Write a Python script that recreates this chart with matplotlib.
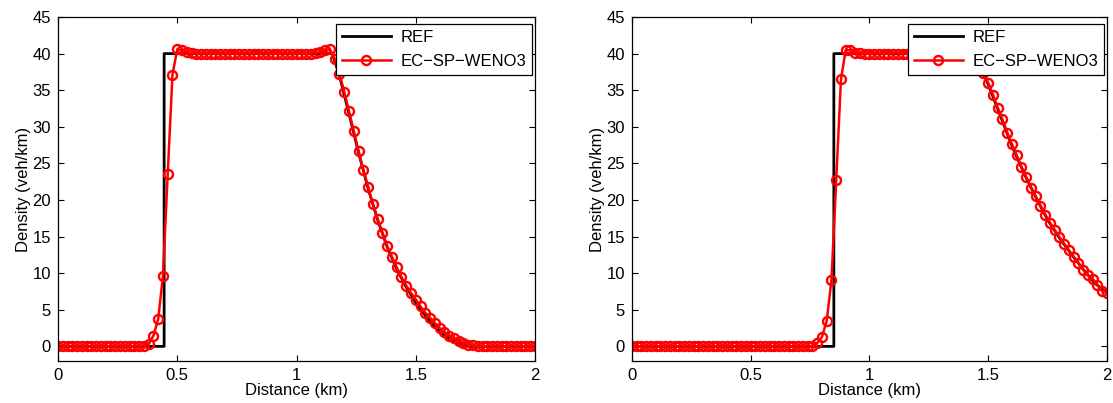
import numpy as np
import matplotlib
matplotlib.use('Agg')
import matplotlib.pyplot as plt

plt.rcParams['font.family'] = ['Liberation Sans', 'DejaVu Sans']

# grid points (km)
x = np.linspace(0, 2, 101)

# left panel, EC-SP-WENO3 density (veh/km)
rho_left = [
    0, 0, 0, 0, 0, 0, 0, 0, 0, 0, 0, 0, 0, 0, 0, 0, 0, 0, 0,
    0.3, 1.45, 3.7, 9.6, 23.5, 37.1, 40.6, 40.5, 40.2, 40.05,
    40, 40, 40, 40, 40, 40, 40, 40, 40, 40, 40, 40,
    40, 40, 40, 40, 40, 40, 40, 40, 40, 40, 40, 40,
    40.0, 40.1, 40.2, 40.5, 40.6, 39.3, 37.2, 34.8, 32.1, 29.4,
    26.7, 24.1, 21.8, 19.4, 17.4, 15.5, 13.7, 12.2, 10.8, 9.45,
    8.3, 7.3, 6.4, 5.45, 4.6, 3.9, 3.2, 2.5, 1.95, 1.45,
    1.1, 0.75, 0.45, 0.25, 0.14, 0.05, 0.02,
    0, 0, 0, 0, 0, 0, 0, 0, 0, 0, 0,
]

# right panel, EC-SP-WENO3 density (veh/km)
rho_right = [
    0, 0, 0, 0, 0, 0, 0, 0, 0, 0, 0, 0, 0, 0, 0, 0, 0, 0, 0, 0,
    0, 0, 0, 0, 0, 0, 0, 0, 0, 0, 0, 0, 0, 0, 0, 0, 0, 0, 0,
    0.45, 1.3, 3.5, 9.1, 22.7, 36.5, 40.5, 40.45, 40.1, 40.02,
    40, 40, 40, 40, 40, 40, 40, 40, 40, 40, 40,
    40, 40, 40, 40, 40, 40, 40, 40, 40, 40,
    40.1, 40.3, 40.5, 39.2, 37.4, 36.0, 34.4, 32.6, 31.0, 29.2,
    27.6, 26.1, 24.5, 23.1, 21.7, 20.5, 19.2, 18.0, 16.9, 15.9,
    14.9, 14.0, 13.1, 12.2, 11.4, 10.5, 9.7, 9.2, 8.4, 7.5, 7.35,
]

# reference solutions
ref_left_x = [0, 0.445, 0.445, 1.15, 1.18, 1.22, 1.26, 1.30, 1.34, 1.38,
              1.42, 1.46, 1.50, 1.54, 1.58, 1.62, 1.66, 1.70, 1.72, 2.0]
ref_left_y = [0, 0, 40, 40, 37.0, 31.8, 26.5, 21.6, 17.3, 13.6,
              10.6, 8.1, 6.0, 4.2, 2.7, 1.5, 0.6, 0.1, 0, 0]

ref_right_x = [0, 0.85, 0.85, 1.44, 1.46, 1.50, 1.55, 1.60, 1.65, 1.70,
               1.75, 1.80, 1.85, 1.90, 1.95, 2.0]
ref_right_y = [0, 0, 40, 40, 38.6, 35.8, 31.6, 27.4, 23.7, 20.4,
               17.3, 14.8, 12.6, 10.5, 8.6, 7.3]

fig = plt.figure(figsize=(11.13, 4.03), dpi=100)
ax1 = fig.add_axes([0.0521, 0.1042, 0.4286, 0.8536])
ax2 = fig.add_axes([0.5678, 0.1042, 0.4268, 0.8536])

for ax, rx, ry, rho in [(ax1, ref_left_x, ref_left_y, rho_left),
                        (ax2, ref_right_x, ref_right_y, rho_right)]:
    ax.plot(rx, ry, color='black', lw=2, label='REF')
    ax.plot(x, rho, color='red', lw=1.8, marker='o', markersize=6.5,
            markerfacecolor='none', markeredgewidth=1.7, label='EC\u2212SP\u2212WENO3')
    ax.set_xlim(0, 2)
    ax.set_ylim(-2, 45)
    ax.set_xticks([0, 0.5, 1, 1.5, 2])
    ax.set_xticklabels(['0', '0.5', '1', '1.5', '2'])
    ax.set_yticks(range(0, 50, 5))
    ax.tick_params(direction='in', top=True, right=True, length=4, width=0.8,
                   labelsize=12, pad=5)
    for s in ax.spines.values():
        s.set_linewidth(0.9)
    ax.set_xlabel('Distance (km)', fontsize=12, labelpad=0)
    ax.set_ylabel('Density (veh/km)', fontsize=12, labelpad=1)
    leg = ax.legend(loc='upper right', bbox_to_anchor=(0.994, 0.98),
                    fontsize=12, fancybox=False, edgecolor='black',
                    framealpha=1, handlelength=2.9, borderaxespad=0,
                    borderpad=0.35, labelspacing=0.55, handletextpad=0.6)
    leg.get_frame().set_linewidth(0.9)

plt.savefig('out.png', dpi=100)
